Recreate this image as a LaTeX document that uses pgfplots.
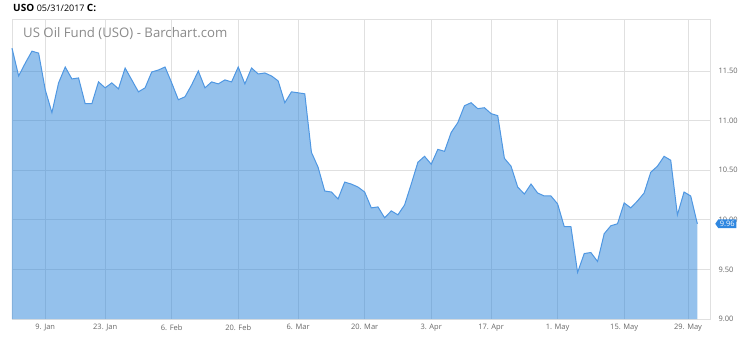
\documentclass[border=0pt]{standalone}
\usepackage{pgfplots}
\pgfplotsset{compat=1.18}
\usepackage{fontspec}
\setmainfont{Open Sans}
\usetikzlibrary{shapes.symbols}
\definecolor{fillc}{HTML}{2983D9}
\definecolor{linec}{HTML}{4F97E2}
\definecolor{gridc}{HTML}{E0E0E0}
\definecolor{labc}{HTML}{666666}
\definecolor{titc}{HTML}{8A8A8A}
\definecolor{badge}{HTML}{2F87E0}
\pgfplotstableread{
x y
0 11.73
1 11.45
2 11.58
3 11.70
4 11.68
5 11.31
6 11.08
7 11.38
8 11.54
9 11.42
10 11.43
11 11.17
12 11.17
13 11.39
14 11.33
15 11.38
16 11.32
17 11.53
18 11.41
19 11.29
20 11.33
21 11.49
22 11.51
23 11.54
24 11.38
25 11.21
26 11.24
27 11.36
28 11.50
29 11.33
30 11.39
31 11.37
32 11.41
33 11.39
34 11.54
35 11.37
36 11.53
37 11.47
38 11.48
39 11.45
40 11.40
41 11.18
42 11.29
43 11.28
44 11.27
45 10.68
46 10.53
47 10.29
48 10.28
49 10.21
50 10.38
51 10.36
52 10.33
53 10.28
54 10.12
55 10.13
56 10.02
57 10.09
58 10.05
59 10.15
60 10.36
61 10.58
62 10.64
63 10.56
64 10.71
65 10.69
66 10.88
67 10.98
68 11.15
69 11.18
70 11.12
71 11.13
72 11.07
73 11.05
74 10.62
75 10.54
76 10.33
77 10.26
78 10.36
79 10.27
80 10.24
81 10.24
82 10.16
83 9.93
84 9.93
85 9.47
86 9.66
87 9.67
88 9.58
89 9.86
90 9.94
91 9.96
92 10.17
93 10.12
94 10.19
95 10.27
96 10.48
97 10.54
98 10.64
99 10.60
100 10.05
101 10.28
102 10.24
103 9.96
}\uso
\begin{document}
\begin{tikzpicture}
\path[use as bounding box] (-12pt,-22pt) rectangle (738pt,319pt);
\begin{axis}[
  at={(0,0)}, anchor=south west,
  scale only axis, width=698pt, height=300pt,
  xmin=0, xmax=104.9, ymin=9, ymax=12.024,
  axis line style={gridc},
  grid=major, grid style={gridc, line width=0.8pt},
  major tick length=0pt,
  xtick={5,14,24,34,43,53,63,72,82,92,101.6},
  xticklabels={9. Jan,23. Jan,6. Feb,20. Feb,6. Mar,20. Mar,3. Apr,17. Apr,1. May,15. May,29. May},
  ytick={9,9.5,10,10.5,11,11.5},
  yticklabels={9.00,9.50,10.00,10.50,11.00,11.50},
  yticklabel pos=right,
  ticklabel style={font=\fontsize{7.5}{9}\selectfont, text=labc},
  xticklabel style={yshift=-2pt},
  yticklabel style={xshift=5pt},
  clip=false,
]
\addplot[draw=none, fill=fillc, fill opacity=0.5] table[x=x,y=y]{\uso} \closedcycle;
\addplot[linec, line width=1pt] table[x=x,y=y]{\uso};
\node[signal, signal to=west, signal pointer angle=110, fill=badge, text=white,
  font=\fontsize{7.5}{9}\selectfont, inner sep=1.6pt, anchor=west]
  at ([xshift=5pt]axis cs:104.9,9.96) {9.96};
\end{axis}
\node[anchor=west, inner sep=0pt] at (1pt,311pt) {\fontsize{10}{11}\selectfont\bfseries USO \fontsize{9}{11}\mdseries 05/31/2017 \fontsize{10}{11}\selectfont\bfseries C:};
\node[anchor=west, inner sep=0pt, text=titc] at (11pt,285pt) {\fontsize{13.2}{15}\selectfont US Oil Fund (USO) - Barchart.com};
\end{tikzpicture}
\end{document}
